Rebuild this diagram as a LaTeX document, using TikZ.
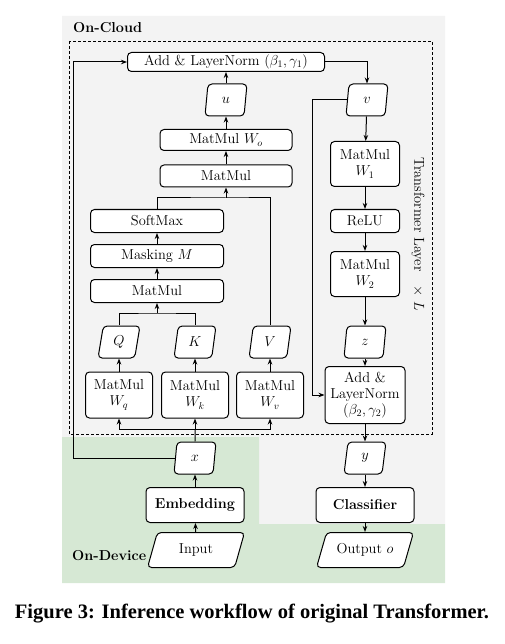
\documentclass[tikz,border=0pt]{standalone}
\usepackage{fontspec}
\newfontfamily\capfont{Liberation Serif}
\usetikzlibrary{arrows.meta,positioning,shapes.geometric}
\definecolor{cloudgray}{RGB}{243,243,243}
\definecolor{devgreen}{RGB}{214,232,212}
\tikzset{
  box/.style={draw,rounded corners=4pt,fill=white,line width=1pt,align=center,inner sep=1pt},
  data/.style={draw,trapezium,trapezium left angle=70,trapezium right angle=110,trapezium stretches body,
    rounded corners=4pt,fill=white,line width=1pt,minimum height=32pt,minimum width=42pt,inner sep=1pt},
  arr/.style={-{Stealth[length=6pt,width=4.5pt]},line width=1pt},
  ln/.style={line width=1pt},
  zone/.style={font=\bfseries\fontsize{14.4}{16}\selectfont,anchor=west,inner sep=0pt},
}
\begin{document}
\begin{tikzpicture}[x=1pt,y=-1pt,font=\fontsize{14.4}{16}\selectfont]
  \useasboundingbox (0,0) rectangle (504,644);
  \fill[cloudgray] (62,16)--(445,16)--(445,524)--(259,524)--(259,437)--(62,437)--cycle;
  \fill[devgreen] (62,437)--(259,437)--(259,524)--(445,524)--(445,583)--(62,583)--cycle;
  \draw[line width=0.9pt,dash pattern=on 3pt off 2pt] (69,41) rectangle (432,434);
  \node[zone] (cloud) at (73,28) {On-Cloud};
  \node[zone] (device) at (72,556) {On-Device};
  \node[rotate=-90] (layer) at (418,234) {Transformer Layer\quad$\times\;L$};
  % attention branch
  \node[box,minimum width=197pt,minimum height=19pt] (add1) at (226,62) {Add \& LayerNorm $(\beta_1,\gamma_1)$};
  \node[data] (u) at (226,100) {$u$};
  \node[box,minimum width=132pt,minimum height=21pt] (mmo) at (226,140) {MatMul $W_o$};
  \node[box,minimum width=132pt,minimum height=22pt] (mm2) at (226,176) {MatMul};
  \node[box,minimum width=133pt,minimum height=23pt] (soft) at (157,221) {SoftMax};
  \node[box,minimum width=133pt,minimum height=23pt] (mask) at (157,256) {Masking $M$};
  \node[box,minimum width=133pt,minimum height=23pt] (mm1) at (157,291) {MatMul};
  \node[data] (q) at (119,342) {$Q$};
  \node[data] (k) at (195,342) {$K$};
  \node[data] (val) at (270,342) {$V$};
  \node[box,minimum width=67pt,minimum height=46pt] (wq) at (119,395) {MatMul\\$W_q$};
  \node[box,minimum width=67pt,minimum height=46pt] (wk) at (195,395) {MatMul\\$W_k$};
  \node[box,minimum width=67pt,minimum height=46pt] (wv) at (270,395) {MatMul\\$W_v$};
  % feed-forward branch
  \node[data] (v) at (367,100) {$v$};
  \node[box,minimum width=69pt,minimum height=45pt] (w1) at (365,164) {MatMul\\$W_1$};
  \node[box,minimum width=69pt,minimum height=23pt] (relu) at (365,221) {ReLU};
  \node[box,minimum width=69pt,minimum height=45pt] (w2) at (365,274) {MatMul\\$W_2$};
  \node[data] (z) at (365,342) {$z$};
  \node[box,minimum width=80pt,minimum height=57pt] (add2) at (365,395) {Add \&\\LayerNorm\\$(\beta_2,\gamma_2)$};
  % device side
  \node[data] (x) at (195,458) {$x$};
  \node[box,minimum width=98pt,minimum height=35pt,font=\bfseries\fontsize{14.4}{16}\selectfont] (emb) at (195,505) {Embedding};
  \node[data,minimum width=97pt,minimum height=35pt,trapezium left angle=56,trapezium right angle=124] (input) at (196,550) {Input};
  \node[data] (y) at (365,458) {$y$};
  \node[box,minimum width=98pt,minimum height=35pt,font=\bfseries\fontsize{14.4}{16}\selectfont] (cls) at (365,505) {Classifier};
  \node[data,minimum width=97pt,minimum height=35pt,trapezium left angle=56,trapezium right angle=124] (out) at (365,550) {Output $o$};
  % connectors
  \coordinate (xb) at (195,429);
  \coordinate (qk) at (157,313);
  \coordinate (sv) at (226,198);
  \coordinate (xl) at (73,458);
  \coordinate (vl) at (312,100);
  \foreach \a/\b in {input/emb,emb/x,wq/q,wk/k,wv/val,mm1/mask,mask/soft,mm2/mmo,mmo/u,u/add1,
    v/w1,w1/relu,relu/w2,w2/z,z/add2,add2/y,y/cls,cls/out}
    \draw[arr] (\a) -- (\b);
  \draw[ln] (x.north) -- (xb);
  \draw[arr] (xb) -- (wk.south);
  \draw[arr] (xb) -| (wq.south);
  \draw[arr] (xb) -| (wv.south);
  \draw[ln] (q.north) |- (qk) -| (k.north);
  \draw[arr] (qk) -- (mm1.south);
  \draw[ln] (soft.north) |- (sv) -| (val.north);
  \draw[arr] (sv) -- (mm2.south);
  \draw[arr] (add1.east) -| (v.north);
  \draw[arr] (x.west) -- (xl) |- (add1.west);
  \draw[arr] (v.west) -- (vl) |- (add2.west);
  \node (cap) at (252,614) {\capfont\bfseries\fontsize{20.5}{23}\selectfont Figure 3: Inference workflow of original Transformer.};
\end{tikzpicture}
\end{document}
